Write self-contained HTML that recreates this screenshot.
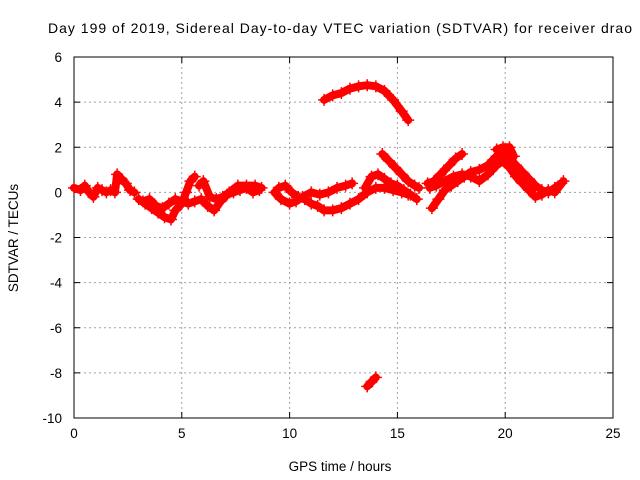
<!DOCTYPE html>
<html><head><meta charset="utf-8"><style>
body{margin:0;background:#fff}
svg{display:block;font-family:"Liberation Sans",Arial,sans-serif}
</style></head><body>
<svg id="chart" width="640" height="480">
<text x="48" y="33" font-size="14" textLength="584" lengthAdjust="spacing">Day 199 of 2019, Sidereal Day-to-day VTEC variation (SDTVAR) for receiver drao</text>
<g id="grid"></g>
<g id="axes"></g>
<g id="marks"></g>
<text x="340" y="471" text-anchor="middle" font-size="13.5">GPS time / hours</text>
<text transform="translate(18,238) rotate(-90)" text-anchor="middle" font-size="13.5">SDTVAR / TECUs</text>
</svg>
<script>
const xTicks=[0,5,10,15,20,25];
const yTicks=[6,4,2,0,-2,-4,-6,-8,-10];
const s1=[[0,0.2],[0.3,0.1],[0.5,0.3],[0.7,0],[0.9,-0.2],[1.1,0.2],[1.3,0.1],[1.5,0],[1.7,0.1],[1.9,0],[2.0,0.8],[2.2,0.6],[2.4,0.4],[2.6,0.1],[2.8,0]];
const s2=[[3.0,-0.3],[3.3,-0.5],[3.6,-0.7],[3.9,-0.9],[4.2,-1.1],[4.5,-1.2],[4.7,-0.8],[5.0,-0.5],[5.2,0],[5.4,0.5],[5.6,0.7]];
const s2b=[[3.2,-0.4],[3.5,-0.3],[3.8,-0.6],[4.1,-0.7],[4.4,-0.5],[4.7,-0.3],[5.0,-0.4],[5.3,-0.5],[5.6,-0.4],[5.9,-0.3],[6.2,-0.6],[6.5,-0.8],[6.8,-0.4],[7.1,-0.1],[7.4,0],[7.7,0.1],[8.0,0.2],[8.3,0],[8.6,0.1]];
const s2c=[[5.8,0.3],[6.0,0.5],[6.3,-0.2],[6.6,-0.3],[6.9,-0.2],[7.2,0],[7.6,0.3],[8.0,0.3],[8.4,0.3],[8.7,0.2]];
const s3=[[9.5,0.2],[9.8,0.3],[10.1,0],[10.4,-0.2],[10.7,-0.3],[11.0,-0.5],[11.3,-0.6],[11.6,-0.8],[12.0,-0.8],[12.4,-0.7],[12.8,-0.5],[13.2,-0.3],[13.6,0],[14.0,0.2],[14.4,0.2],[14.8,0.1],[15.2,0],[15.5,-0.1]];
const s3b=[[9.3,0],[9.6,-0.3],[10.0,-0.5],[10.3,-0.4],[10.6,-0.2],[11.0,0],[11.4,-0.1],[11.8,0],[12.2,0.2],[12.6,0.3],[12.9,0.4]];
const s3c=[[13.5,0.2],[13.8,0.7],[14.1,0.8],[14.4,0.6],[14.7,0.4],[15.0,0.3],[15.3,0.1],[15.6,-0.1],[15.9,-0.3]];
const s3d=[[14.3,1.7],[14.6,1.4],[14.9,1.1],[15.2,0.8],[15.5,0.5],[15.8,0.3],[16.0,0.2]];
const arc=[[11.6,4.1],[12.0,4.3],[12.4,4.4],[12.8,4.6],[13.2,4.7],[13.6,4.75],[14.0,4.7],[14.4,4.5],[14.8,4.1],[15.2,3.6],[15.5,3.2]];
const low=[[13.6,-8.6],[13.8,-8.4],[14.0,-8.2]];
const s4=[[16.4,0.4],[16.7,0.5],[17.0,0.8],[17.4,1.2],[17.7,1.5],[18.0,1.7]];
const s4b=[[16.6,-0.7],[16.9,-0.3],[17.2,0.1],[17.5,0.3],[17.8,0.5],[18.1,0.7],[18.4,0.9],[18.8,1.0],[19.2,1.2],[19.6,1.6],[19.9,1.8],[20.2,1.5],[20.5,1.2],[20.8,0.9],[21.1,0.6],[21.4,0.3],[21.7,0.1],[22.0,0],[22.3,0.2],[22.6,0.4]];
const s4c=[[16.5,0.2],[16.8,0.3],[17.2,0.5],[17.6,0.7],[18.0,0.8],[18.4,0.7],[18.8,0.5],[19.2,0.8],[19.6,1.2],[19.9,1.4],[20.2,1.1],[20.5,0.7],[20.8,0.4],[21.1,0.1],[21.4,-0.2],[21.7,-0.1],[22.0,0.1],[22.3,0],[22.7,0.5]];
const s4d=[[19.6,1.9],[19.9,2.0],[20.2,2.0],[20.4,1.6]];
const series=[s1,s2,s2b,s2c,s3,s3b,s3c,s3d,arc,low,s4,s4b,s4c,s4d];

const L=74,R=613,T=57,B=418;
const X=v=>L+(v-0)/25*(R-L);
const Y=v=>B-(v+10)/16*(B-T);
const NS="http://www.w3.org/2000/svg";
function mk(t,a,p){const e=document.createElementNS(NS,t);for(const k in a)e.setAttribute(k,a[k]);p.appendChild(e);return e;}
const grid=document.getElementById('grid'),axes=document.getElementById('axes'),marks=document.getElementById('marks');
xTicks.forEach(t=>{
  if(t>0&&t<25){const g=mk('line',{x1:X(t),x2:X(t),y1:T,y2:B,stroke:'#a0a0a0','stroke-dasharray':'2,3'},grid);
  
  }
  mk('line',{x1:X(t),x2:X(t),y1:B,y2:B-6,stroke:'#000'},axes);
  mk('line',{x1:X(t),x2:X(t),y1:T,y2:T+6,stroke:'#000'},axes);
  const tx=mk('text',{x:X(t),y:B+20,'text-anchor':'middle','font-size':13.5},axes);tx.textContent=t;
  
  
});
yTicks.forEach(t=>{
  if(t>-10&&t<6){const g=mk('line',{x1:L,x2:R,y1:Y(t),y2:Y(t),stroke:'#a0a0a0','stroke-dasharray':'2,3'},grid);
  
  }
  mk('line',{x1:L,x2:L+6,y1:Y(t),y2:Y(t),stroke:'#000'},axes);
  mk('line',{x1:R,x2:R-6,y1:Y(t),y2:Y(t),stroke:'#000'},axes);
  const tx=mk('text',{x:L-12,y:Y(t)+5,'text-anchor':'end','font-size':13.5},axes);tx.textContent=t;
  
  
});
mk('rect',{x:L,y:T,width:R-L,height:B-T,fill:'none',stroke:'#000'},axes);
series.forEach(s=>{
  const pl=mk('polyline',{points:s.map(p=>X(p[0])+','+Y(p[1])).join(' '),fill:'none',stroke:'#f00','stroke-width':8,'stroke-linejoin':'round','stroke-linecap':'round'},marks);
  
  
  s.forEach(p=>{
    const x=X(p[0]),y=Y(p[1]);
    const m=mk('path',{d:`M${x-6},${y}H${x+6}M${x},${y-6}V${y+6}`,stroke:'#f00','stroke-width':1.5},marks);
    
    
  });
});
</script>
</body></html>
